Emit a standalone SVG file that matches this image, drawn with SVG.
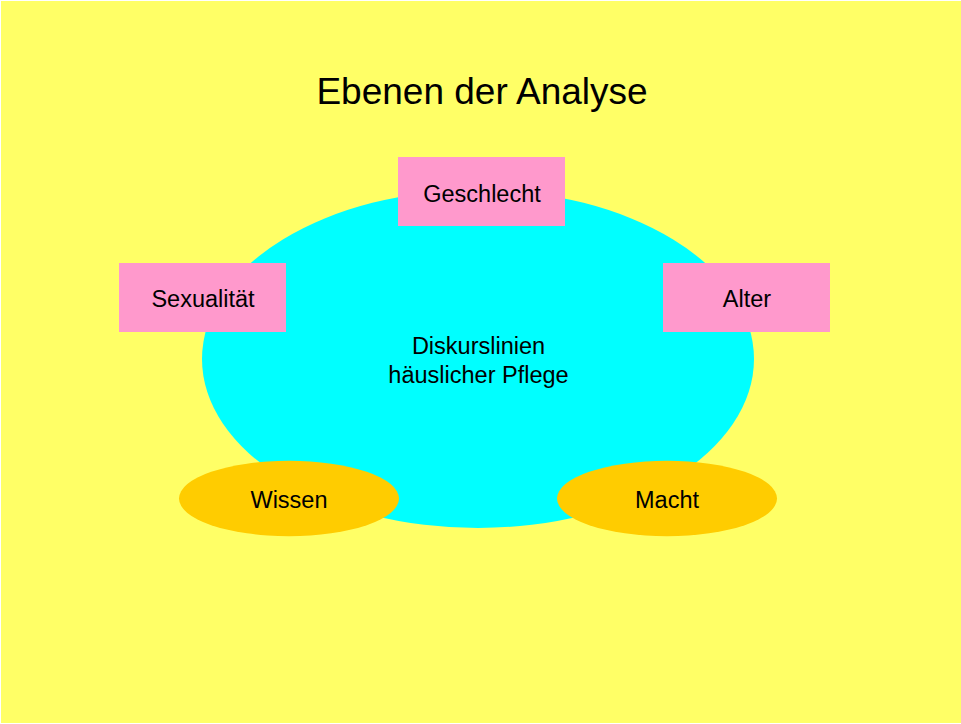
<svg xmlns="http://www.w3.org/2000/svg" width="961" height="724" viewBox="0 0 961 724">
<style>
text{font-family:"Liberation Sans",Arial,sans-serif;fill:#000;text-anchor:middle}
.lbl{font-size:23.5px}
.box{fill:#FF99CC}
.oval{fill:#FFCC00}
</style>
<rect x="0" y="0" width="961" height="724" fill="#fff"/>
<rect x="1" y="1" width="960" height="722" fill="#FFFF66"/>
<text x="482" y="104" font-size="37">Ebenen der Analyse</text>
<g id="center">
<ellipse cx="478" cy="359" rx="276" ry="169" fill="#00FFFF"/>
<text class="lbl" x="478.5" y="353.5">Diskurslinien</text>
<text class="lbl" x="478.5" y="382.5">häuslicher Pflege</text>
</g>
<g id="connectors"></g>
<g id="geschlecht"><rect class="box" x="398" y="157" width="167" height="69"/><text class="lbl" x="482" y="202">Geschlecht</text></g>
<g id="sexualitaet"><rect class="box" x="119" y="263" width="167" height="69"/><text class="lbl" x="203" y="307">Sexualität</text></g>
<g id="alter"><rect class="box" x="663" y="263" width="167" height="69"/><text class="lbl" x="747" y="307">Alter</text></g>
<g id="wissen"><ellipse class="oval" cx="289" cy="498.5" rx="110" ry="37.7"/><text class="lbl" x="289" y="508">Wissen</text></g>
<g id="macht"><ellipse class="oval" cx="667" cy="498.5" rx="110" ry="37.7"/><text class="lbl" x="667" y="508">Macht</text></g>
</svg>
